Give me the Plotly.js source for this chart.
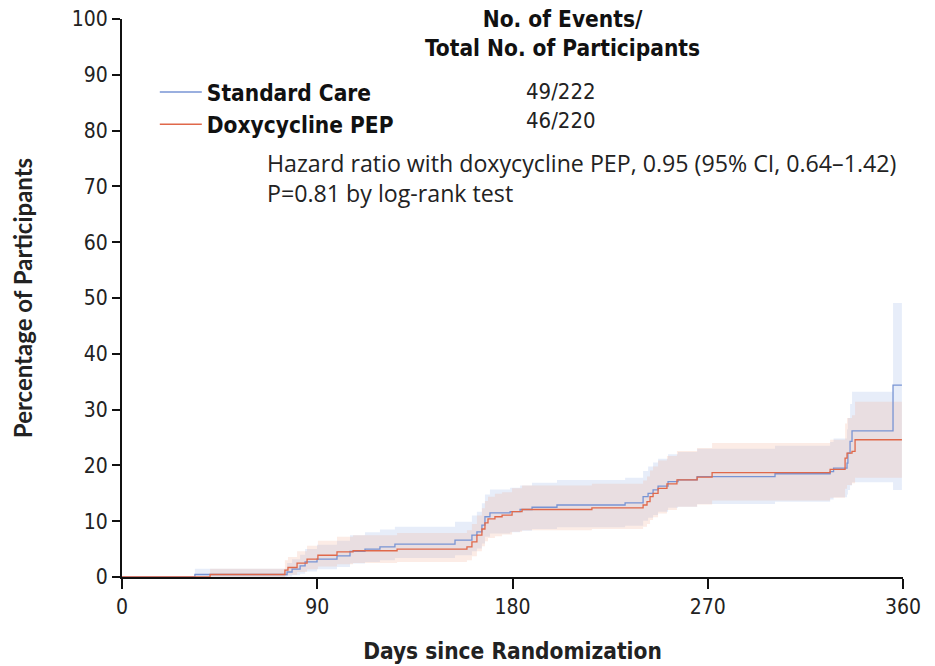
<!DOCTYPE html>
<html>
<head>
<meta charset="utf-8">
<script src="https://cdn.plot.ly/plotly-3.0.1.min.js"></script>
<style>html,body{margin:0;padding:0;background:#fff;}#chart{width:935px;height:666px;}</style>
</head>
<body>
<div id="chart"></div>
<script>
// Standard Care (Kaplan-Meier cumulative incidence, %)
const scDays = [0, 33.6, 76.1, 78.4, 82.1, 84.4, 89.9, 99.1, 105.1, 112.0, 118.9, 125.8, 153.5, 161.3, 163.6, 165.9, 167.3, 169.6, 178.9, 183.5, 189.0, 200.5, 231.9, 240.2, 242.5, 244.8, 247.1, 251.7, 256.3, 265.1, 301.0, 326.4, 328.0, 334.2, 334.6, 335.6, 336.5, 355.4, 359.5];
const scPct  = [0, 0.45, 0.9, 1.4, 2.0, 2.7, 3.2, 3.8, 4.6, 5.0, 5.4, 5.9, 6.6, 7.5, 8.1, 9.3, 10.8, 11.5, 11.7, 12.1, 12.5, 12.9, 13.3, 14.4, 15.0, 15.6, 16.3, 17.1, 17.4, 18.0, 18.5, 18.9, 19.5, 20.4, 22.2, 24.3, 26.2, 34.4, 34.4];
const scLow  = [0, 0, 0.1, 0.3, 0.6, 1.0, 1.4, 1.8, 2.4, 2.7, 3.0, 3.4, 3.9, 4.6, 5.1, 6.0, 7.2, 7.8, 8.0, 8.3, 8.6, 8.9, 9.2, 10.1, 10.6, 11.1, 11.7, 12.4, 12.6, 13.1, 13.5, 13.9, 14.3, 14.8, 15.6, 16.4, 17.0, 15.6, 15.6];
const scHigh = [0, 1.5, 2.5, 3.2, 4.0, 5.0, 5.8, 6.5, 7.5, 8.0, 8.5, 9.0, 9.9, 11.0, 11.7, 13.2, 14.8, 15.7, 16.0, 16.4, 16.9, 17.4, 17.8, 19.0, 19.8, 20.5, 21.2, 22.0, 22.4, 23.0, 23.5, 24.2, 24.8, 26.5, 28.5, 31.0, 33.2, 49.1, 49.1];

// Doxycycline PEP
const dxDays = [0, 40.6, 75.1, 76.5, 80.7, 85.3, 90.3, 99.1, 106.5, 126.8, 159.0, 161.3, 163.6, 165.9, 167.3, 168.7, 171.9, 175.2, 179.8, 184.4, 216.6, 240.2, 242.0, 243.4, 244.8, 247.1, 251.2, 255.8, 265.1, 272.0, 326.4, 333.3, 334.2, 336.5, 337.9, 359.5];
const dxPct  = [0, 0.45, 1.25, 1.7, 2.5, 3.2, 3.9, 4.5, 4.7, 5.0, 5.4, 6.3, 7.5, 8.6, 9.7, 10.4, 10.8, 11.1, 11.7, 12.1, 12.4, 12.9, 13.5, 14.4, 15.0, 15.9, 16.7, 17.4, 17.9, 18.7, 19.3, 21.3, 22.2, 22.5, 24.6, 24.6];
const dxLow  = [0, 0, 0.2, 0.4, 0.9, 1.4, 1.9, 2.3, 2.5, 2.7, 3.0, 3.7, 4.6, 5.5, 6.4, 7.0, 7.3, 7.6, 8.1, 8.4, 8.6, 9.0, 9.5, 10.2, 10.7, 11.4, 12.0, 12.6, 13.0, 13.7, 14.2, 15.8, 16.5, 16.8, 17.8, 17.8];
const dxHigh = [0, 1.5, 3.0, 3.6, 4.6, 5.6, 6.5, 7.2, 7.5, 7.9, 8.4, 9.5, 11.0, 12.3, 13.6, 14.4, 14.9, 15.2, 15.9, 16.4, 16.7, 17.3, 18.0, 19.1, 19.8, 20.9, 21.7, 22.6, 23.1, 24.0, 24.6, 27.5, 28.5, 29.0, 31.4, 31.4];

const seriesNames = ["Standard Care", "Doxycycline PEP"];
const eventCounts = ["49/222", "46/220"];
const xTicks = [0, 90, 180, 270, 360];
const yTicks = [0, 10, 20, 30, 40, 50, 60, 70, 80, 90, 100];

const blueLine = "#7894d4";
const redLine = "#e0684a";
const blueBand = "rgba(180,200,235,0.32)";
const redBand = "rgba(240,170,140,0.22)";

const condensed = "'Liberation Sans Narrow', 'DejaVu Sans Condensed', sans-serif";
const regular = "'Open Sans', Lato, sans-serif";

function band(x, lo, hi, color) {
  return [
    {x: x, y: lo, mode: "lines", line: {width: 0, shape: "hv"}, hoverinfo: "skip", showlegend: false},
    {x: x, y: hi, mode: "lines", line: {width: 0, shape: "hv"}, fill: "tonexty", fillcolor: color, hoverinfo: "skip", showlegend: false}
  ];
}

const traces = [].concat(
  band(scDays, scLow, scHigh, blueBand),
  band(dxDays, dxLow, dxHigh, redBand),
  [
    {x: scDays, y: scPct, mode: "lines", name: seriesNames[0], line: {color: blueLine, width: 1.3, shape: "hv"}},
    {x: dxDays, y: dxPct, mode: "lines", name: seriesNames[1], line: {color: redLine, width: 1.3, shape: "hv"}}
  ]
);

const layout = {
  width: 935, height: 666,
  margin: {l: 122, r: 32, t: 19, b: 89, pad: 0},
  paper_bgcolor: "#fff", plot_bgcolor: "#fff",
  showlegend: true,
  legend: {
    x: 0.042, y: 0.907, xanchor: "left", yanchor: "top",
    traceorder: "normal",
    bgcolor: "rgba(0,0,0,0)", borderwidth: 0,
    itemwidth: 42, tracegroupgap: 0,
    font: {family: condensed, size: 22.5, color: "#111", weight: "bold"}
  },
  xaxis: {
    range: [0, 360], tickvals: xTicks, ticktext: xTicks.map(String),
    showline: true, linecolor: "#111", linewidth: 2, mirror: false,
    ticks: "outside", ticklen: 10, tickwidth: 2, tickcolor: "#111",
    showgrid: false, zeroline: false,
    tickfont: {family: condensed, size: 21, color: "#222"},
    title: {text: "Days since Randomization", font: {family: condensed, size: 22.5, color: "#222", weight: "bold"}, standoff: 25}
  },
  yaxis: {
    range: [0, 100], tickvals: yTicks, ticktext: yTicks.map(String),
    showline: true, linecolor: "#111", linewidth: 2,
    ticks: "outside", ticklen: 8, tickwidth: 2, tickcolor: "#111",
    showgrid: false, zeroline: false,
    tickfont: {family: condensed, size: 21, color: "#222"},
    title: {text: "Percentage of Participants", font: {family: "Lato, sans-serif", size: 24, color: "#222", weight: "bold"}, standoff: 32}
  },
  annotations: [
    {xref: "paper", yref: "paper", x: (562 - 122) / 781, y: (577 - 33) / 558, xanchor: "center", yanchor: "middle",
     text: "<b>No. of Events/<br>Total No. of Participants</b>", showarrow: false, align: "center",
     font: {family: condensed, size: 22.5, color: "#111"}},
    {xref: "paper", yref: "paper", x: (524 - 122) / 781, y: (577 - 92) / 558, xanchor: "left", yanchor: "middle",
     text: eventCounts[0], showarrow: false, font: {family: condensed, size: 22, color: "#222"}},
    {xref: "paper", yref: "paper", x: (524 - 122) / 781, y: (577 - 121) / 558, xanchor: "left", yanchor: "middle",
     text: eventCounts[1], showarrow: false, font: {family: condensed, size: 22, color: "#222"}},
    {xref: "paper", yref: "paper", x: (265 - 122) / 781, y: (577 - 178) / 558, xanchor: "left", yanchor: "middle",
     text: "Hazard ratio with doxycycline PEP, 0.95 (95% CI, 0.64\u20131.42)<br>P=0.81 by log-rank test", showarrow: false, align: "left",
     font: {family: regular, size: 23.2, color: "#222"}}
  ]
};

Plotly.newPlot("chart", traces, layout, {displayModeBar: false, staticPlot: true});
</script>
</body>
</html>
